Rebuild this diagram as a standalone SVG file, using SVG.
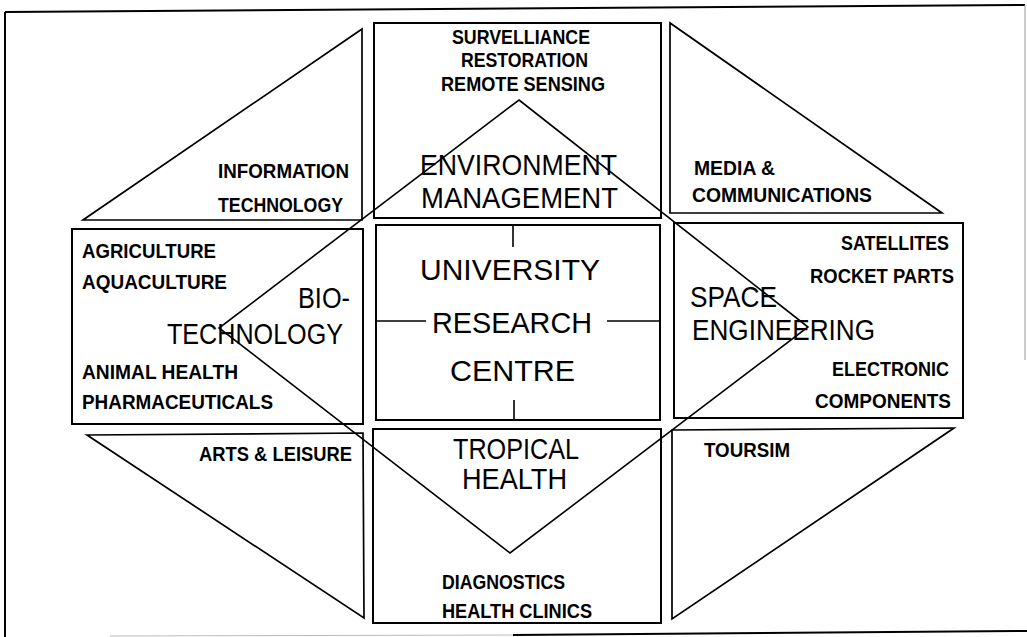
<svg xmlns="http://www.w3.org/2000/svg" width="1027" height="637" viewBox="0 0 1027 637">
  <style>
    .box { fill: none; stroke: #000; stroke-width: 2; }
    .tri { fill: none; stroke: #000; stroke-width: 1.7; stroke-linejoin: miter; }
    .ln { fill: none; stroke: #000; stroke-width: 1.6; }
    .sm { font-family: "Liberation Sans", Arial, sans-serif; font-weight: bold; font-size: 21px; fill: #000; }
    .lg { font-family: "Liberation Sans", Arial, sans-serif; font-size: 29px; fill: #000; }
  </style>
  <rect width="1027" height="637" fill="#fff"/>

  <!-- outer frame (slightly skewed scan edges) -->
  <g id="frame" fill="none" stroke-width="2">
    <path d="M5,12 L1025,5" stroke="#000"/>
    <path d="M5,12 L5,637" stroke="#000"/>
    <path d="M1025,5 L1025,360" stroke="#999" stroke-width="1"/>
    <path d="M513,635 L1027,631" stroke="#000"/>
    <path d="M110,636 L513,635" stroke="#bbb" stroke-width="1"/>
  </g>

  <!-- connectors: central diamond and the cross ticks -->
  <g id="connectors">
    <polygon class="ln" points="519,100 808,327 510,553 219,328"/>
    <path class="ln" d="M513,225 L513,247 M514,400 L514,420 M376,321 L426,321 M607,321 L660,321"/>
  </g>

  <!-- centre -->
  <g id="node-centre">
    <rect class="box" x="376" y="225" width="284" height="195"/>
    <text class="lg" x="420" y="280" textLength="180" lengthAdjust="spacingAndGlyphs">UNIVERSITY</text>
    <text class="lg" x="432" y="333" textLength="160" lengthAdjust="spacingAndGlyphs">RESEARCH</text>
    <text class="lg" x="450" y="381" textLength="125" lengthAdjust="spacingAndGlyphs">CENTRE</text>
  </g>

  <!-- environment management -->
  <g id="node-environment">
    <rect class="box" x="374" y="23" width="287" height="195"/>
    <text class="sm" x="452" y="44" textLength="138" lengthAdjust="spacingAndGlyphs">SURVELLIANCE</text>
    <text class="sm" x="461" y="67" textLength="127" lengthAdjust="spacingAndGlyphs">RESTORATION</text>
    <text class="sm" x="441" y="91" textLength="164" lengthAdjust="spacingAndGlyphs">REMOTE SENSING</text>
    <text class="lg" x="420" y="175" font-size="30" textLength="197" lengthAdjust="spacingAndGlyphs">ENVIRONMENT</text>
    <text class="lg" x="421" y="208" font-size="33" textLength="197" lengthAdjust="spacingAndGlyphs">MANAGEMENT</text>
  </g>

  <!-- tropical health -->
  <g id="node-tropical">
    <rect class="box" x="373" y="429" width="288" height="194"/>
    <text class="lg" x="453" y="459" font-size="26" textLength="126" lengthAdjust="spacingAndGlyphs">TROPICAL</text>
    <text class="lg" x="462" y="489" font-size="26" textLength="105" lengthAdjust="spacingAndGlyphs">HEALTH</text>
    <text class="sm" x="442" y="589" font-size="20" textLength="123" lengthAdjust="spacingAndGlyphs">DIAGNOSTICS</text>
    <text class="sm" x="442" y="618" font-size="20" textLength="150" lengthAdjust="spacingAndGlyphs">HEALTH CLINICS</text>
  </g>

  <!-- biotechnology -->
  <g id="node-biotech">
    <rect class="box" x="72" y="229" width="291" height="195"/>
    <text class="sm" x="82" y="258" textLength="134" lengthAdjust="spacingAndGlyphs">AGRICULTURE</text>
    <text class="sm" x="82" y="289" textLength="145" lengthAdjust="spacingAndGlyphs">AQUACULTURE</text>
    <text class="lg" x="298" y="308" font-size="28" textLength="52" lengthAdjust="spacingAndGlyphs">BIO-</text>
    <text class="lg" x="167" y="344" font-size="28" textLength="176" lengthAdjust="spacingAndGlyphs">TECHNOLOGY</text>
    <text class="sm" x="82" y="379" textLength="156" lengthAdjust="spacingAndGlyphs">ANIMAL HEALTH</text>
    <text class="sm" x="82" y="409" textLength="191" lengthAdjust="spacingAndGlyphs">PHARMACEUTICALS</text>
  </g>

  <!-- space engineering -->
  <g id="node-space">
    <rect class="box" x="674" y="223" width="289" height="195"/>
    <text class="sm" x="841" y="250" textLength="108" lengthAdjust="spacingAndGlyphs">SATELLITES</text>
    <text class="sm" x="810" y="283" textLength="144" lengthAdjust="spacingAndGlyphs">ROCKET PARTS</text>
    <text class="lg" x="690" y="307" font-size="28" textLength="87" lengthAdjust="spacingAndGlyphs">SPACE</text>
    <text class="lg" x="692" y="340" font-size="30" textLength="183" lengthAdjust="spacingAndGlyphs">ENGINEERING</text>
    <text class="sm" x="832" y="376" textLength="117" lengthAdjust="spacingAndGlyphs">ELECTRONIC</text>
    <text class="sm" x="815" y="408" textLength="136" lengthAdjust="spacingAndGlyphs">COMPONENTS</text>
  </g>

  <!-- information technology -->
  <g id="node-it">
    <polygon class="tri" points="362,29 83,220 362,220"/>
    <text class="sm" x="218" y="178" textLength="131" lengthAdjust="spacingAndGlyphs">INFORMATION</text>
    <text class="sm" x="218" y="212" textLength="125" lengthAdjust="spacingAndGlyphs">TECHNOLOGY</text>
  </g>

  <!-- media and communications -->
  <g id="node-media">
    <polygon class="tri" points="670,23 670,213 942,213"/>
    <text class="sm" x="694" y="175" textLength="81" lengthAdjust="spacingAndGlyphs">MEDIA &amp;</text>
    <text class="sm" x="692" y="202" textLength="180" lengthAdjust="spacingAndGlyphs">COMMUNICATIONS</text>
  </g>

  <!-- arts and leisure -->
  <g id="node-arts">
    <polygon class="tri" points="87,435 363,433 364,618"/>
    <text class="sm" x="199" y="461" textLength="153" lengthAdjust="spacingAndGlyphs">ARTS &amp; LEISURE</text>
  </g>

  <!-- tourism -->
  <g id="node-tourism">
    <polygon class="tri" points="672,430 954,428 672,619"/>
    <text class="sm" x="704" y="457" textLength="86" lengthAdjust="spacingAndGlyphs">TOURSIM</text>
  </g>
</svg>
